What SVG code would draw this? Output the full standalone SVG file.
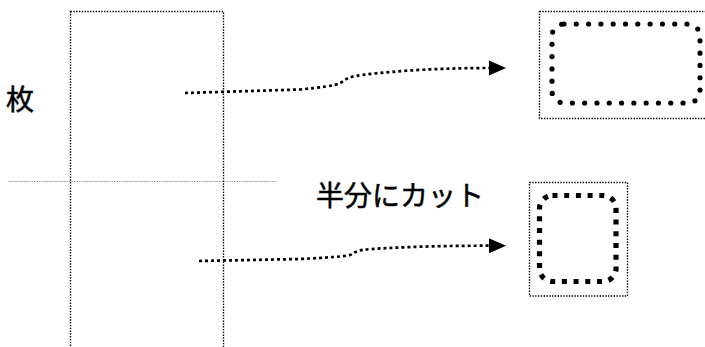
<svg xmlns="http://www.w3.org/2000/svg" width="705" height="347" viewBox="0 0 705 347">
<defs>
<style>
.lbl{font-family:"Noto Sans CJK JP","Noto Sans CJK SC",sans-serif;font-size:28px;fill:#000;stroke:#000;stroke-width:0.5}
.thin{fill:none;stroke:#000;stroke-width:1.4;stroke-dasharray:1.4 1.4}
.conn{fill:none;stroke:#000;stroke-width:2.7;stroke-dasharray:3 3}
</style>
<marker id="ah" markerUnits="userSpaceOnUse" markerWidth="18" markerHeight="16" refX="0" refY="7.5" orient="auto" overflow="visible">
<path d="M0,0 L17,7.5 L0,15 z" fill="#000"/>
</marker>
</defs>
<rect width="705" height="347" fill="#fff"/>
<g id="sheet">
<rect class="thin" x="70.5" y="11.5" width="153" height="360"/>
</g>
<g id="cutline">
<line x1="9" y1="181.5" x2="277" y2="181.5" stroke="#999" stroke-width="1" stroke-dasharray="1.5 1"/>
</g>
<g id="label-mai">
<text class="lbl" x="6" y="110">枚</text>
</g>
<g id="label-cut">
<text class="lbl" x="316" y="206">半分にカット</text>
</g>
<g id="full-card">
<rect class="thin" x="539.5" y="11.5" width="200" height="107" stroke-width="1.2" stroke-dasharray="1.2 1.2"/>
<rect x="552" y="24" width="148" height="79" rx="12" fill="none" stroke="#000" stroke-width="5.2" stroke-linecap="round" stroke-dasharray="0 12.3"/>
</g>
<g id="half-card">
<rect class="thin" x="529.5" y="182.5" width="98" height="113.5"/>
<rect x="539.5" y="195.5" width="76.5" height="86" rx="13" fill="none" stroke="#000" stroke-width="5.2" stroke-dasharray="5 6.7"/>
</g>
<g id="connectors">
<path class="conn" marker-end="url(#ah)" d="M185,93 L300,89.5 C320,87.5 334,86 340,83 C346,80 346,77 362,75 C400,70 450,68 489,68"/>
<path class="conn" marker-end="url(#ah)" d="M199,261 L300,259 C330,257.5 344,256.5 350,255 C356,252 356,250 372,249 C410,246.5 450,245.7 489,245.7"/>
</g>
</svg>
